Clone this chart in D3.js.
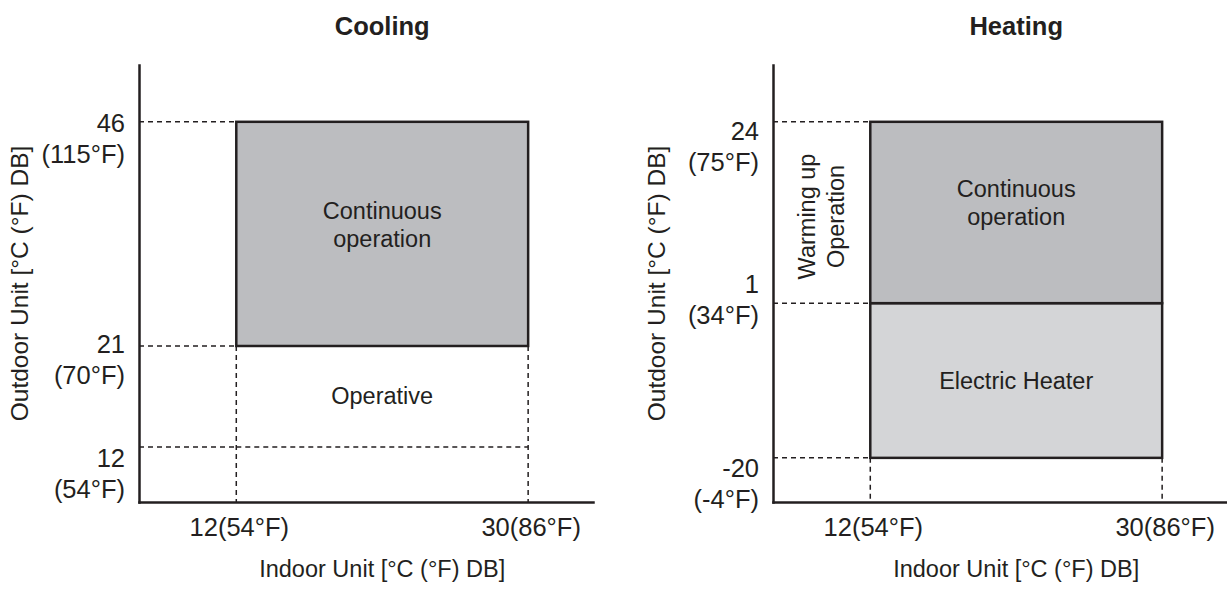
<!DOCTYPE html>
<html>
<head>
<meta charset="utf-8">
<script src="https://cdn.jsdelivr.net/npm/d3@7"></script>
<style>
  body { margin: 0; background: #fff; }
  svg text { font-family: "Liberation Sans", Arial, Helvetica, sans-serif; fill: #231f20; }
</style>
</head>
<body>
<div id="chart"></div>
<script>
// indoor unit temps (x), same for both panels
var indoorTicks = [12, 30];
var indoorTicksF = ["54°F", "86°F"];
var indoorDomain = [6, 34];

// cooling panel
var coolTicks = [12, 21, 46];
var coolTicksF = ["54°F", "70°F", "115°F"];
var coolEnds = [7, 52];
var coolZoneNames = ["Operative", "Continuous\noperation"];
var coolZoneLow = [12, 21];
var coolZoneHigh = [21, 46];

// heating panel
var heatTicks = [-20, 1, 24];
var heatTicksF = ["-4°F", "34°F", "75°F"];
var heatEnds = [-26, 31];
var heatZoneNames = ["Electric Heater", "Continuous\noperation"];
var heatZoneLow = [-20, 1];
var heatZoneHigh = [1, 24];
var heatSideNote = ["Warming up", "Operation"];
var heatSideLow = 1, heatSideHigh = 24;

var svgWidth = 1227;
var svgHeight = 589;
var margin = {top: 65, bottom: 87};
var width = 454;
var height = svgHeight - margin.top - margin.bottom;
var ink = "#231f20";

var svg = d3.select("#chart")
  .append("svg")
  .attr("width", svgWidth)
  .attr("height", svgHeight);

// where each y tick label sits relative to its line (layout only)
var tickShift = {"46": 10, "21": 7, "12": 20, "24": 18, "1": -10, "-20": 19};

function drawPanel(p) {
  var g = svg.append("g")
    .attr("transform", `translate(${p.left}, ${margin.top})`);

  var x = d3.scaleLinear().domain(indoorDomain).range([0, width]);
  var y = d3.scaleLinear()
    .domain([p.ends[0]].concat(p.ticks, [p.ends[1]]))
    .range(p.yFrac.map(f => f * height));

  var dash = "5,4";
  var zones = p.names.map((n, i) => ({name: n, lo: p.low[i], hi: p.high[i], fill: p.fills[i]}));
  var filled = zones.filter(z => z.fill != "none");
  var lowFilled = d3.min(filled, z => z.lo);

  // dashed guides: y ticks to the box
  g.selectAll(".hguide")
    .data(p.ticks)
    .enter()
    .append("line")
    .attr("x1", 0)
    .attr("x2", x(indoorTicks[0]))
    .attr("y1", d => y(d))
    .attr("y2", d => y(d))
    .attr("stroke", ink)
    .attr("stroke-width", 1.5)
    .attr("stroke-dasharray", dash);

  // dashed bottom of open zones
  g.selectAll(".zguide")
    .data(zones.filter(z => z.fill == "none"))
    .enter()
    .append("line")
    .attr("x1", x(indoorTicks[0]))
    .attr("x2", x(indoorTicks[1]))
    .attr("y1", d => y(d.lo))
    .attr("y2", d => y(d.lo))
    .attr("stroke", ink)
    .attr("stroke-width", 1.5)
    .attr("stroke-dasharray", dash);

  // dashed verticals down to the x axis
  g.selectAll(".vguide")
    .data(indoorTicks)
    .enter()
    .append("line")
    .attr("x1", d => x(d))
    .attr("x2", d => x(d))
    .attr("y1", y(lowFilled))
    .attr("y2", height)
    .attr("stroke", ink)
    .attr("stroke-width", 1.5)
    .attr("stroke-dasharray", dash);

  // zone boxes
  g.selectAll(".zone")
    .data(filled)
    .enter()
    .append("rect")
    .attr("x", x(indoorTicks[0]))
    .attr("width", x(indoorTicks[1]) - x(indoorTicks[0]))
    .attr("y", d => y(d.hi))
    .attr("height", d => y(d.lo) - y(d.hi))
    .attr("fill", d => d.fill)
    .attr("stroke", ink)
    .attr("stroke-width", 2.5);

  // zone names
  zones.forEach(function(z) {
    var lines = z.name.split("\n");
    var cy = (y(z.lo) + y(z.hi)) / 2;
    var t = g.append("text")
      .attr("text-anchor", "middle")
      .style("font-size", "23.5px");
    lines.forEach(function(l, i) {
      var dy = lines.length == 1 ? 8 : (i == 0 ? -15 : 13);
      t.append("tspan")
        .attr("x", x(d3.mean(indoorTicks)))
        .attr("y", cy + dy)
        .text(l);
    });
  });

  // side note (rotated)
  if (p.side) {
    var sx = (0 + x(indoorTicks[0])) / 2;
    var sy = (y(p.sideLow) + y(p.sideHigh)) / 2 + 4;
    var st = g.append("text")
      .attr("transform", `translate(${sx}, ${sy}) rotate(-90)`)
      .attr("text-anchor", "middle")
      .attr("dominant-baseline", "central")
      .style("font-size", "23.5px");
    p.side.forEach(function(l, i) {
      st.append("tspan")
        .attr("x", 0)
        .attr("y", (i - (p.side.length - 1) / 2) * 29)
        .text(l);
    });
  }

  // axes (lines only)
  g.append("g")
    .attr("transform", `translate(0, ${height})`)
    .call(d3.axisBottom(x).tickValues([]).tickSizeOuter(0));
  g.append("g")
    .call(d3.axisLeft(y).tickValues([]).tickSizeOuter(0));
  g.selectAll(".domain")
    .attr("stroke", ink)
    .attr("stroke-width", 2.5)
    .attr("stroke-linecap", "square");

  // y tick labels, two lines
  p.ticks.forEach(function(t, i) {
    var ty = y(t) + tickShift[String(t)];
    var txt = g.append("text")
      .attr("text-anchor", "end")
      .style("font-size", "25.5px");
    txt.append("tspan").attr("x", -14).attr("y", ty).text(t);
    txt.append("tspan").attr("x", -14).attr("y", ty + 31).text(`(${p.ticksF[i]})`);
  });

  // x tick labels
  g.selectAll(".xlab")
    .data(indoorTicks)
    .enter()
    .append("text")
    .attr("x", d => x(d) + 3)
    .attr("y", height + 34)
    .attr("text-anchor", "middle")
    .style("font-size", "25.5px")
    .text((d, i) => `${d}(${indoorTicksF[i]})`);

  // axis titles
  g.append("text")
    .attr("x", x(d3.mean(indoorTicks)))
    .attr("y", height + 75)
    .attr("text-anchor", "middle")
    .style("font-size", "23.5px")
    .text("Indoor Unit [°C (°F) DB]");

  g.append("text")
    .attr("transform", `translate(${p.ylabX}, ${height / 2}) rotate(-90)`)
    .attr("text-anchor", "middle")
    .attr("dominant-baseline", "central")
    .style("font-size", "24.5px")
    .text("Outdoor Unit [°C (°F) DB]");

  // panel title
  g.append("text")
    .attr("x", x(d3.mean(indoorTicks)))
    .attr("y", -30)
    .attr("text-anchor", "middle")
    .style("font-size", "25.5px")
    .style("font-weight", "bold")
    .text(p.title);
}

drawPanel({
  title: "Cooling",
  left: 139,
  ylabX: -120,
  ticks: coolTicks,
  ticksF: coolTicksF,
  ends: coolEnds,
  yFrac: [1, 0.874, 0.643, 0.130, 0],
  names: coolZoneNames,
  low: coolZoneLow,
  high: coolZoneHigh,
  fills: ["none", "#bcbdc0"]
});

drawPanel({
  title: "Heating",
  left: 773,
  ylabX: -117,
  ticks: heatTicks,
  ticksF: heatTicksF,
  ends: heatEnds,
  yFrac: [1, 0.899, 0.545, 0.130, 0],
  names: heatZoneNames,
  low: heatZoneLow,
  high: heatZoneHigh,
  fills: ["#d4d5d7", "#bcbdc0"],
  side: heatSideNote,
  sideLow: heatSideLow,
  sideHigh: heatSideHigh
});
</script>
</body>
</html>
